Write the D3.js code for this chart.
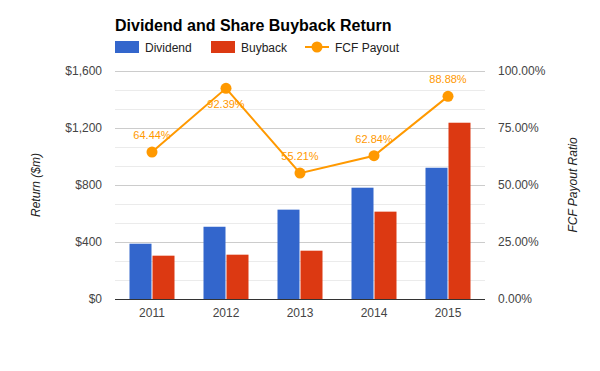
<!DOCTYPE html>
<html lang="en">
<head>
<meta charset="utf-8">
<title>Dividend and Share Buyback Return</title>
<script src="https://d3js.org/d3.v7.min.js"></script>
<style>
  body { margin: 0; background: #fff; }
  svg { font-family: Arial, "Liberation Sans", sans-serif; }
  .tick text { font-size: 12px; fill: #444; }
</style>
</head>
<body>
<svg class="chart" width="600" height="371"></svg>
<script>
var years = ["2011", "2012", "2013", "2014", "2015"];
var dividend = [388, 507, 627, 781, 921];
var buyback = [304, 311, 339, 613, 1237];
var fcfPayout = [64.44, 92.39, 55.21, 62.84, 88.88];
var leftTicks = [0, 400, 800, 1200, 1600];
var rightTicks = [0, 25, 50, 75, 100];

var blue = "#3366cc", red = "#dc3912", orange = "#ff9900";
// note: "top" is taken by window.top, so use plot* names
var plotLeft = 115, plotRight = 485, plotTop = 71, plotBottom = 299;

var svg = d3.select("svg");

var x = d3.scaleBand().domain(years).range([plotLeft, plotRight]);
var y = d3.scaleLinear().domain([0, 1600]).range([plotBottom, plotTop]);
var y2 = d3.scaleLinear().domain([0, 100]).range([plotBottom, plotTop]);

// gridlines: minor every 400/3, major every 400
var minor = d3.range(0, 13).map(function(i) { return i * 1600 / 12; });
svg.append("g").selectAll("line").data(minor).enter().append("line")
  .attr("x1", plotLeft).attr("x2", plotRight)
  .attr("y1", function(d) { return Math.round(y(d)) + 0.5; })
  .attr("y2", function(d) { return Math.round(y(d)) + 0.5; })
  .attr("stroke", function(d, i) { return i % 3 == 0 ? "#cccccc" : "#ebebeb"; });

// left axis
var la = svg.append("g").attr("transform", "translate(" + plotLeft + ",0)")
  .call(d3.axisLeft(y).tickValues(leftTicks).tickSize(0).tickPadding(13)
    .tickFormat(function(d) { return "$" + d3.format(",")(d); }));
la.select(".domain").remove();

// right axis
var ra = svg.append("g").attr("transform", "translate(" + plotRight + ",0)")
  .call(d3.axisRight(y2).tickValues(rightTicks).tickSize(0).tickPadding(13)
    .tickFormat(function(d) { return d.toFixed(2) + "%"; }));
ra.select(".domain").remove();

// bars
var bw = 22;
var g = svg.append("g");
g.selectAll("rect.div").data(dividend).enter().append("rect")
  .attr("class", "div")
  .attr("x", function(d, i) { return x(years[i]) + x.bandwidth() / 2 - bw - 0.5; })
  .attr("y", function(d) { return y(d); })
  .attr("width", bw)
  .attr("height", function(d) { return plotBottom - y(d); })
  .attr("fill", blue);
g.selectAll("rect.buy").data(buyback).enter().append("rect")
  .attr("class", "buy")
  .attr("x", function(d, i) { return x(years[i]) + x.bandwidth() / 2 + 0.5; })
  .attr("y", function(d) { return y(d); })
  .attr("width", bw)
  .attr("height", function(d) { return plotBottom - y(d); })
  .attr("fill", red);

// baseline
svg.append("line").attr("x1", plotLeft).attr("x2", plotRight)
  .attr("y1", plotBottom + 0.5).attr("y2", plotBottom + 0.5)
  .attr("stroke", "#333").attr("stroke-width", 1);

// x axis labels
var xa = svg.append("g").attr("transform", "translate(0," + plotBottom + ")")
  .call(d3.axisBottom(x).tickSize(0).tickPadding(9));
xa.select(".domain").remove();
xa.selectAll(".tick text").attr("fill", "#222");

// fcf line
var line = d3.line()
  .x(function(d, i) { return x(years[i]) + x.bandwidth() / 2; })
  .y(function(d) { return y2(d); });
svg.append("path").datum(fcfPayout)
  .attr("d", line).attr("fill", "none")
  .attr("stroke", orange).attr("stroke-width", 2);
svg.append("g").selectAll("circle").data(fcfPayout).enter().append("circle")
  .attr("cx", function(d, i) { return x(years[i]) + x.bandwidth() / 2; })
  .attr("cy", function(d) { return y2(d); })
  .attr("r", 5.5).attr("fill", orange);
// labels go above the point unless that would leave the plot area
svg.append("g").selectAll("text").data(fcfPayout).enter().append("text")
  .attr("x", function(d, i) { return x(years[i]) + x.bandwidth() / 2; })
  .attr("y", function(d) {
    var py = y2(d);
    return (py - 22 < plotTop) ? py + 20 : py - 13;
  })
  .attr("text-anchor", "middle")
  .attr("font-size", "11px")
  .attr("fill", orange)
  .text(function(d) { return d.toFixed(2) + "%"; });

// title
svg.append("text").attr("x", 115).attr("y", 31)
  .attr("font-size", "16px").attr("font-weight", "bold").attr("fill", "#000")
  .text("Dividend and Share Buyback Return");

// legend
var lg = svg.append("g").attr("font-size", "12px").attr("fill", "#222");
lg.append("rect").attr("x", 115).attr("y", 41).attr("width", 24).attr("height", 12).attr("fill", blue);
lg.append("text").attr("x", 145).attr("y", 51.5).text("Dividend");
lg.append("rect").attr("x", 211).attr("y", 41).attr("width", 24).attr("height", 12).attr("fill", red);
lg.append("text").attr("x", 241).attr("y", 51.5).text("Buyback");
lg.append("line").attr("x1", 305).attr("x2", 329).attr("y1", 47).attr("y2", 47)
  .attr("stroke", orange).attr("stroke-width", 2);
lg.append("circle").attr("cx", 317).attr("cy", 47).attr("r", 5.5).attr("fill", orange);
lg.append("text").attr("x", 335).attr("y", 51.5).text("FCF Payout");

// axis titles
svg.append("text")
  .attr("transform", "translate(40," + ((plotTop + plotBottom) / 2) + ") rotate(-90)")
  .attr("text-anchor", "middle").attr("font-size", "12px")
  .attr("font-style", "italic").attr("fill", "#222")
  .text("Return ($m)");
svg.append("text")
  .attr("transform", "translate(577," + ((plotTop + plotBottom) / 2) + ") rotate(-90)")
  .attr("text-anchor", "middle").attr("font-size", "12px")
  .attr("font-style", "italic").attr("fill", "#222")
  .text("FCF Payout Ratio");
</script>
</body>
</html>
